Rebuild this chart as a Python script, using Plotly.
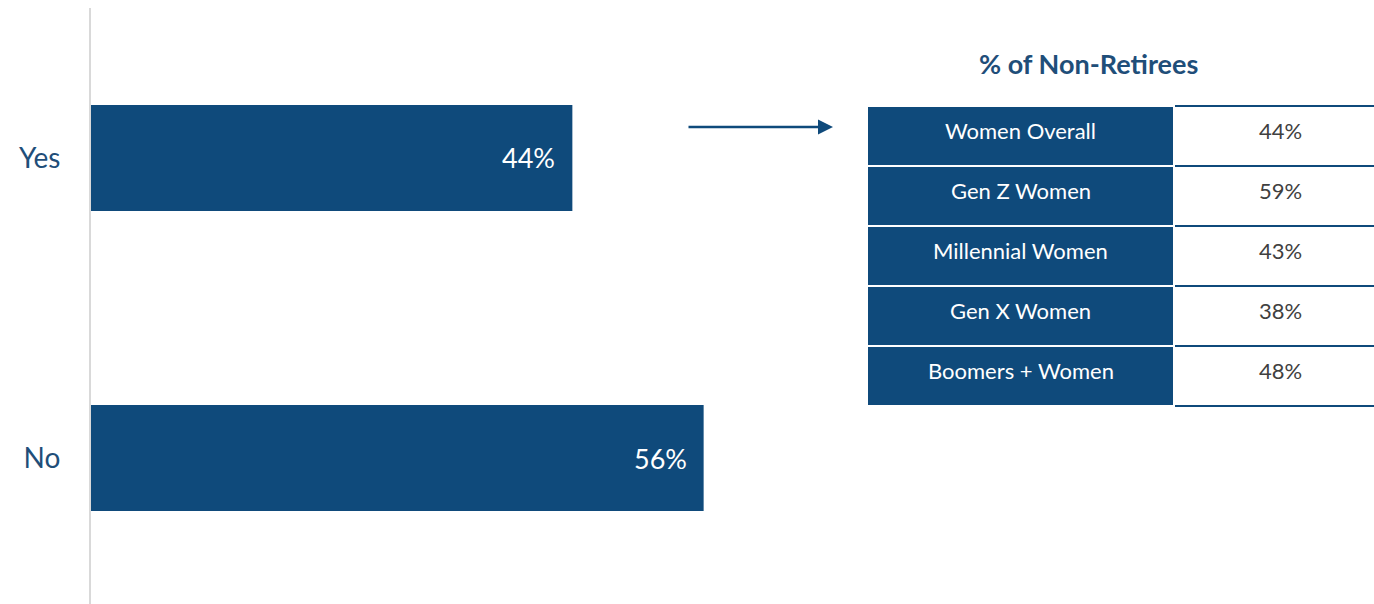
import plotly.graph_objects as go

# Share of respondents answering the question
answers = ["Yes", "No"]
answer_pct = [44, 56]

# Breakdown among non-retirees
groups = ["Women Overall", "Gen Z Women", "Millennial Women", "Gen X Women", "Boomers + Women"]
group_pct = [44, 59, 43, 38, 48]

table_title = "% of Non-Retirees"

W, H = 1374, 604
BLUE = "#0F4A7B"
LABEL_BLUE = "#1F4E79"
GRAY_TXT = "#404040"
FONT = "Lato"

fig = go.Figure()

# ---- left: horizontal bars -------------------------------------------------
fig.add_trace(go.Bar(
    x=answer_pct,
    y=answers,
    orientation="h",
    width=0.353,
    marker=dict(color=BLUE, line=dict(width=0)),
    hoverinfo="skip",
    showlegend=False,
    xaxis="x", yaxis="y",
))

for a, v in zip(answers, answer_pct):
    fig.add_annotation(
        x=v, y=a, xref="x", yref="y",
        text=f"{v}%", showarrow=False,
        xanchor="right", yanchor="middle", xshift=-15,
        font=dict(family=FONT, size=27, color="white"),
    )

# ---- right: two-column table built on its own axes ---------------------------
LEFT_COL = 307 / 507          # share of the table width taken by the label column
rows = list(range(len(groups)))

fig.add_trace(go.Bar(
    x=[LEFT_COL] * len(groups),
    y=rows,
    base=0,
    orientation="h",
    width=1.0,
    marker=dict(color=BLUE, line=dict(color="white", width=2)),
    hoverinfo="skip",
    showlegend=False,
    xaxis="x2", yaxis="y2",
))

for r, g, v in zip(rows, groups, group_pct):
    fig.add_annotation(
        x=LEFT_COL / 2, y=r, xref="x2", yref="y2",
        text=g, showarrow=False, xanchor="center", yanchor="middle", yshift=6,
        font=dict(family=FONT, size=22, color="white"),
    )
    fig.add_annotation(
        x=0.815, y=r, xref="x2", yref="y2",
        text=f"{v}%", showarrow=False, xanchor="center", yanchor="middle", yshift=6,
        font=dict(family=FONT, size=22, color=GRAY_TXT),
    )

x0_px, x1_px = 91, 760
px_per_pct = 10.94
top_px = 8

# table rows are 60 px; pad the axis by a few px so the outer rules are kept
row_px = 60
pad_px = 3
edge = pad_px / row_px
tbl_top, tbl_bot = 106 - pad_px, 406 + pad_px

fig.update_layout(
    width=W, height=H,
    margin=dict(l=0, r=0, t=0, b=0),
    paper_bgcolor="white", plot_bgcolor="rgba(0,0,0,0)",
    xaxis=dict(
        domain=[x0_px / W, x1_px / W],
        range=[0, (x1_px - x0_px) / px_per_pct],
        visible=False,
    ),
    yaxis=dict(
        domain=[0, 1 - top_px / H],
        range=[1 + (H - 458) / 300, -0.5],
        showline=True, linecolor="#D9D9D9", linewidth=2,
        showgrid=False, zeroline=False,
        ticks="", ticklabelstandoff=23,
        tickfont=dict(family=FONT, size=28, color=LABEL_BLUE),
    ),
    xaxis2=dict(
        domain=[867 / W, 1.0],
        range=[0, 1],
        anchor="y2",
        showgrid=False, zeroline=False, showticklabels=False, ticks="",
    ),
    yaxis2=dict(
        domain=[1 - tbl_bot / H, 1 - tbl_top / H],
        range=[len(groups) - 0.5 + edge, -0.5 - edge],
        anchor="x2",
        tickmode="array",
        tickvals=[i - 0.5 for i in range(len(groups) + 1)],
        showgrid=True, gridcolor=BLUE, gridwidth=2,
        zeroline=False, showticklabels=False, ticks="",
    ),
    font=dict(family=FONT),
)

fig.add_annotation(
    x=1088 / W, y=1 - 65 / H, xref="paper", yref="paper",
    text=f"<b>{table_title}</b>", showarrow=False,
    xanchor="center", yanchor="middle", yshift=2,
    font=dict(family=FONT, size=27, color=LABEL_BLUE),
)

# arrow pointing from the "Yes" bar to the table
fig.add_annotation(
    x=833 / W, y=1 - 127 / H, xref="paper", yref="paper",
    ax=-146, ay=0, axref="pixel", ayref="pixel",
    text="", showarrow=True,
    arrowhead=2, arrowsize=1.2, arrowwidth=2.5, arrowcolor=BLUE,
)

fig.write_html("out.html")
